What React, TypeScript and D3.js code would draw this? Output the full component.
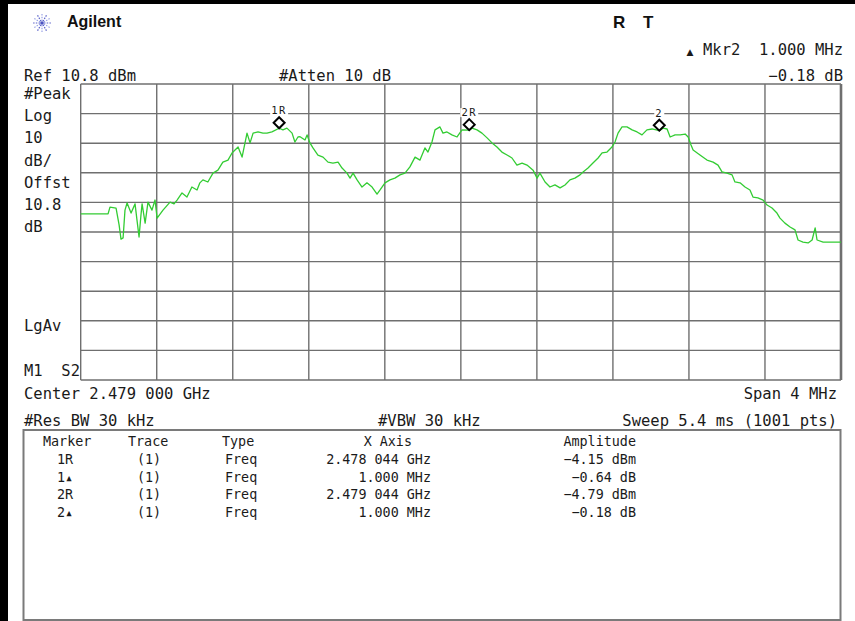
import React from "react";
import * as d3 from "d3";

// ---- data (frequency offset from center in MHz, amplitude in dBm) ----
const CENTER_GHZ = 2.479;
const SPAN_MHZ = 4;
const REF_DBM = 10.8;
const DB_PER_DIV = 10;

const FREQ_MHZ = [
  -2.0, -1.856, -1.846, -1.814, -1.798, -1.788, -1.777, -1.767, -1.756, -1.735,
  -1.714, -1.704, -1.693, -1.683, -1.677, -1.661, -1.646, -1.625, -1.609, -1.598,
  -1.567, -1.53, -1.509, -1.493, -1.467, -1.441, -1.415, -1.388, -1.373, -1.357,
  -1.331, -1.304, -1.278, -1.252, -1.225, -1.204, -1.188, -1.172, -1.151, -1.125,
  -1.109, -1.093, -1.067, -1.041, -1.02, -0.994, -0.956, -0.936, -0.915, -0.888,
  -0.873, -0.857, -0.846, -0.82, -0.809, -0.794, -0.778, -0.752, -0.725, -0.699,
  -0.673, -0.646, -0.625, -0.599, -0.583, -0.567, -0.546, -0.52, -0.494, -0.467,
  -0.441, -0.425, -0.399, -0.373, -0.347, -0.32, -0.294, -0.268, -0.241, -0.215,
  -0.189, -0.173, -0.152, -0.136, -0.11, -0.094, -0.073, -0.047, -0.02, 0.006,
  0.044, 0.059, 0.085, 0.111, 0.138, 0.164, 0.19, 0.216, 0.243, 0.269,
  0.295, 0.322, 0.348, 0.38, 0.401, 0.416, 0.443, 0.469, 0.495, 0.522,
  0.548, 0.574, 0.6, 0.627, 0.643, 0.669, 0.695, 0.722, 0.743, 0.769,
  0.795, 0.811, 0.827, 0.848, 0.874, 0.901, 0.927, 0.953, 0.979, 1.006,
  1.044, 1.064, 1.085, 1.101, 1.127, 1.154, 1.18, 1.196, 1.211, 1.222,
  1.258, 1.295, 1.327, 1.353, 1.374, 1.4, 1.427, 1.442, 1.469, 1.495,
  1.521, 1.537, 1.563, 1.59, 1.611, 1.637, 1.663, 1.679, 1.705, 1.732,
  1.758, 1.774, 1.8, 1.827, 1.848, 1.864, 1.874, 1.906, 2.0,
];

const AMP_DBM = [
  -33.1, -33.1, -30.8, -31.1, -36.8, -41.6, -41.2, -31.8, -29.4, -32.8,
  -29.7, -35.1, -40.9, -33.5, -29.7, -36.2, -29.1, -31.8, -28.4, -34.5,
  -31.8, -29.1, -29.7, -28.4, -26.0, -27.4, -24.0, -25.0, -22.6, -21.6,
  -22.3, -19.3, -18.3, -15.6, -14.9, -12.5, -11.5, -10.5, -13.9, -5.8,
  -9.1, -5.8, -5.4, -5.8, -5.8, -5.4, -4.15, -4.7, -4.1, -5.8,
  -8.8, -7.1, -7.0, -8.1, -6.4, -9.1, -10.8, -13.2, -13.9, -15.6,
  -15.9, -15.6, -17.6, -19.3, -21.0, -19.3, -21.6, -24.0, -22.6, -24.0,
  -26.4, -25.0, -22.6, -21.6, -21.0, -19.9, -19.3, -17.2, -13.9, -14.9,
  -10.8, -12.2, -8.8, -4.7, -3.7, -5.8, -5.4, -6.4, -7.1, -4.7,
  -4.79, -4.1, -4.7, -5.8, -7.4, -9.1, -10.5, -12.2, -13.2, -14.2,
  -16.6, -15.9, -16.6, -18.3, -21.0, -19.3, -22.3, -24.0, -23.3, -24.3,
  -23.3, -21.6, -21.0, -19.9, -18.9, -17.6, -15.9, -14.2, -12.5, -12.2,
  -10.5, -8.8, -5.8, -3.7, -3.7, -4.7, -5.4, -6.4, -4.7, -4.4,
  -4.97, -4.1, -4.4, -7.1, -6.4, -6.4, -6.1, -7.1, -9.8, -11.5,
  -13.2, -14.9, -15.6, -16.6, -18.9, -19.3, -19.9, -22.3, -22.6, -24.0,
  -25.0, -27.4, -27.7, -28.4, -30.1, -31.1, -32.8, -34.5, -36.2, -37.5,
  -38.5, -41.9, -42.6, -42.9, -41.9, -37.8, -41.9, -42.6, -42.6,
];

const MARKER_LABELS = ["1R", "2R", "2"];
const MARKER_FREQ_MHZ = [-0.956, 0.044, 1.044];
const MARKER_AMP_DBM = [-4.15, -4.79, -4.97];

const LEFT_LABELS = ["#Peak", "Log", "10", "dB/", "Offst", "10.8", "dB"];

const TABLE_HEAD = ["Marker", "Trace", "Type", "X Axis", "Amplitude"];
const TABLE_MARKER = ["1R", "1\u25B4", "2R", "2\u25B4"];
const TABLE_TRACE = ["(1)", "(1)", "(1)", "(1)"];
const TABLE_TYPE = ["Freq", "Freq", "Freq", "Freq"];
const TABLE_XAXIS = ["2.478 044 GHz", "1.000 MHz", "2.479 044 GHz", "1.000 MHz"];
const TABLE_AMP = ["-4.15 dBm", "-0.64 dB", "-4.79 dBm", "-0.18 dB"];

// ---- layout ----
const W = 855;
const H = 621;
const GX0 = 80.7;
const GX1 = 841;
const GY0 = 84;
const GY1 = 380;
const MONO = "'DejaVu Sans Mono', 'Liberation Mono', monospace";
const GRID = "#6f6f6f";
const TXT = "#1a1a1a";

export default function App() {
  const x = d3
    .scaleLinear()
    .domain([-SPAN_MHZ / 2, SPAN_MHZ / 2])
    .range([GX0, GX1]);
  const y = d3
    .scaleLinear()
    .domain([REF_DBM, REF_DBM - 10 * DB_PER_DIV])
    .range([GY0, GY1]);

  const xGrid = d3.range(11).map((i) => -SPAN_MHZ / 2 + (i * SPAN_MHZ) / 10);
  const yGrid = d3.range(11).map((i) => REF_DBM - i * DB_PER_DIV);

  const pts = FREQ_MHZ.map((f, i) => [f, AMP_DBM[i]] as [number, number]);
  const line = d3
    .line<[number, number]>()
    .x((d) => x(d[0]))
    .y((d) => y(d[1]))
    .curve(d3.curveLinear);

  const mono = (size: number) => ({
    fontFamily: MONO,
    fontSize: size,
    fill: TXT,
    whiteSpace: "pre" as const,
  });

  const rowY = (i: number) => 446 + i * 17.8;

  // starburst rays for logo
  const rays = d3.range(12).map((i) => (i * Math.PI) / 6);

  return (
    <div style={{ position: "fixed", left: 0, top: 0, width: W, height: H, background: "#fff" }}>
      <svg width={W} height={H} style={{ display: "block" }}>
        <rect x={0} y={0} width={W} height={H} fill="#ffffff" />
        {/* black frame */}
        <rect x={0} y={0} width={W} height={4} fill="#000" />
        <rect x={0} y={0} width={8} height={H} fill="#000" />

        {/* logo */}
        <g transform="translate(42,23)">
          {rays.map((a, i) => (
            <line
              key={i}
              x1={Math.cos(a) * 2}
              y1={Math.sin(a) * 2}
              x2={Math.cos(a) * 10}
              y2={Math.sin(a) * 10}
              stroke={i % 2 ? "#9aa3e6" : "#5b63c9"}
              strokeWidth={1.2}
              strokeDasharray="1.5,1.2"
            />
          ))}
          <circle r={1.8} fill="#4a52c0" />
        </g>
        <text x={67} y={27} style={{ fontFamily: "'Liberation Sans', Arial, sans-serif", fontWeight: 700, fontSize: 16, fill: "#111" }}>
          Agilent
        </text>
        <text x={613} y={28} style={{ fontFamily: "'Liberation Sans', Arial, sans-serif", fontWeight: 700, fontSize: 17, fill: "#111" }}>
          R
        </text>
        <text x={643} y={28} style={{ fontFamily: "'Liberation Sans', Arial, sans-serif", fontWeight: 700, fontSize: 17, fill: "#111" }}>
          T
        </text>

        {/* header */}
        <text x={24} y={81} style={mono(15.5)}>Ref 10.8 dBm</text>
        <text x={279} y={81} style={mono(15.5)}>#Atten 10 dB</text>
        <text x={690} y={55} textAnchor="middle" style={{ ...mono(9), fontFamily: "'DejaVu Sans', sans-serif" }}>
          {"\u25B2"}
        </text>
        <text x={843} y={55} textAnchor="end" style={mono(15.5)}>{"Mkr2  1.000 MHz"}</text>
        <text x={843} y={81} textAnchor="end" style={mono(15.5)}>{"\u22120.18 dB"}</text>

        {/* left labels */}
        {LEFT_LABELS.map((t, i) => (
          <text key={t + i} x={24} y={99 + i * 22.2} style={mono(15.5)}>
            {t}
          </text>
        ))}
        <text x={24} y={331} style={mono(15.5)}>LgAv</text>
        <text x={24} y={376} style={mono(15.5)}>{"M1  S2"}</text>

        {/* grid */}
        <g>
          {yGrid.map((v, i) => (
            <line key={"h" + i} x1={GX0} x2={GX1} y1={y(v)} y2={y(v)} stroke={GRID} strokeWidth={1.4} />
          ))}
          {xGrid.map((v, i) => (
            <line key={"v" + i} x1={x(v)} x2={x(v)} y1={GY0} y2={GY1} stroke={GRID} strokeWidth={1.4} />
          ))}
          <line x1={GX1} x2={GX1} y1={GY0} y2={GY1} stroke={GRID} strokeWidth={2.6} />
        </g>

        {/* trace */}
        <path d={line(pts) || ""} fill="none" stroke="#33cc33" strokeWidth={1.3} strokeLinejoin="round" />

        {/* markers */}
        {MARKER_LABELS.map((lab, i) => {
          const mx = x(MARKER_FREQ_MHZ[i]);
          const my = y(MARKER_AMP_DBM[i]);
          const s = 5.5;
          const cy = my - s;
          const lw = lab.length * 8 + 2;
          return (
            <g key={lab}>
              <rect x={mx - lw / 2} y={my - 22} width={lw} height={9} fill="#fff" />
              <text
                x={mx}
                y={my - 14}
                textAnchor="middle"
                style={{ fontFamily: MONO, fontSize: 10.5, fill: TXT, letterSpacing: 1.5 }}
              >
                {lab}
              </text>
              <path
                d={`M${mx},${cy - s} L${mx + s},${cy} L${mx},${cy + s} L${mx - s},${cy} Z`}
                fill="#fff"
                stroke="#000"
                strokeWidth={2}
              />
            </g>
          );
        })}

        {/* footer lines */}
        <text x={24} y={399} style={mono(15.5)}>Center 2.479 000 GHz</text>
        <text x={837} y={399} textAnchor="end" style={mono(15.5)}>Span 4 MHz</text>
        <text x={24} y={426} style={mono(15.5)}>#Res BW 30 kHz</text>
        <text x={378} y={426} style={mono(15.5)}>#VBW 30 kHz</text>
        <text x={837} y={426} textAnchor="end" style={mono(15.5)}>Sweep 5.4 ms (1001 pts)</text>

        {/* marker table */}
        <rect x={23.5} y={430} width={817} height={190} fill="#fff" stroke="#7a7a7a" strokeWidth={2} />
        <text x={43} y={rowY(0)} style={mono(13.4)}>{TABLE_HEAD[0]}</text>
        <text x={128} y={rowY(0)} style={mono(13.4)}>{TABLE_HEAD[1]}</text>
        <text x={222} y={rowY(0)} style={mono(13.4)}>{TABLE_HEAD[2]}</text>
        <text x={412} y={rowY(0)} textAnchor="end" style={mono(13.4)}>{TABLE_HEAD[3]}</text>
        <text x={636} y={rowY(0)} textAnchor="end" style={mono(13.4)}>{TABLE_HEAD[4]}</text>
        {TABLE_MARKER.map((m, i) => (
          <g key={"row" + i}>
            <text x={57} y={rowY(i + 1)} style={mono(13.4)}>{m}</text>
            <text x={137} y={rowY(i + 1)} style={mono(13.4)}>{TABLE_TRACE[i]}</text>
            <text x={225} y={rowY(i + 1)} style={mono(13.4)}>{TABLE_TYPE[i]}</text>
            <text x={431} y={rowY(i + 1)} textAnchor="end" style={mono(13.4)}>{TABLE_XAXIS[i]}</text>
            <text x={636} y={rowY(i + 1)} textAnchor="end" style={mono(13.4)}>{TABLE_AMP[i].replace("-", "\u2212")}</text>
          </g>
        ))}
      </svg>
    </div>
  );
}
